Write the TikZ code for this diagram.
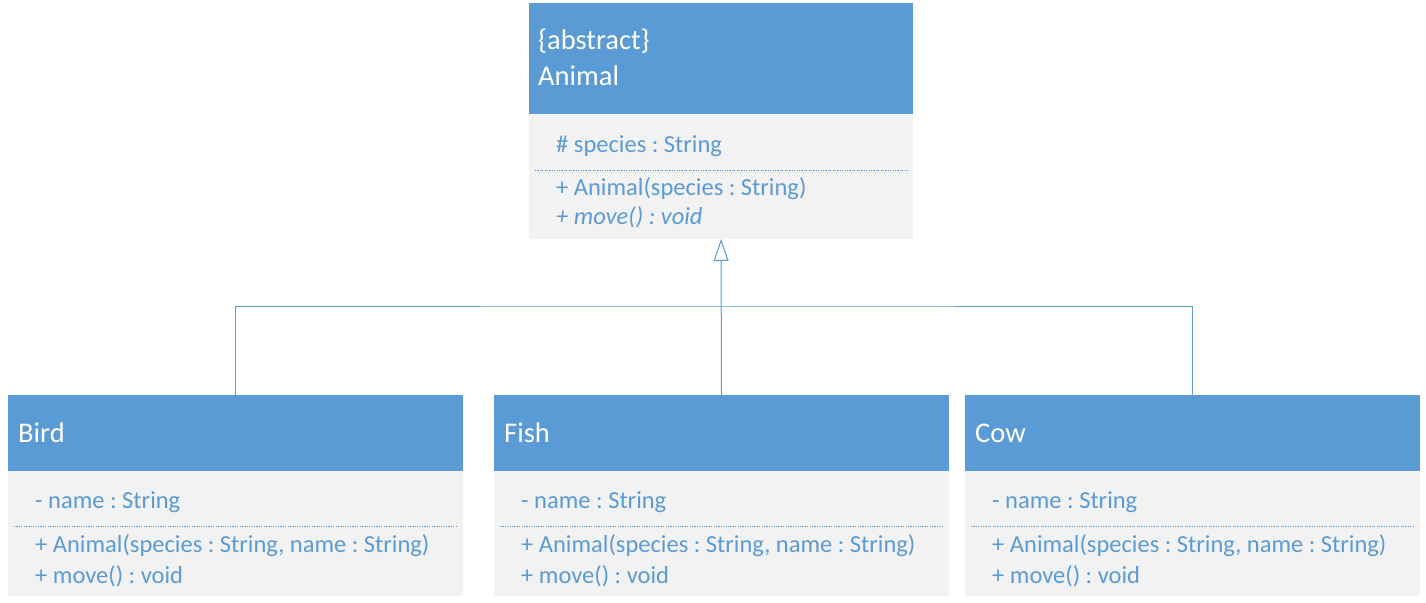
\documentclass[tikz,border=0pt]{standalone}
\usepackage{fontspec}
\setmainfont{Carlito}
\usetikzlibrary{arrows.meta}
\definecolor{umlblue}{HTML}{5B9BD5}
\definecolor{umlgray}{HTML}{F2F2F2}
\frenchspacing
\begin{document}
\begin{tikzpicture}[x=1pt,y=-1pt,
 head/.style={fill=umlblue, anchor=north west, inner sep=0pt, outer sep=0pt},
 body/.style={fill=umlgray, anchor=north west, inner sep=0pt, outer sep=0pt},
 headtxt/.style={anchor=base west, inner sep=0pt, text=white, font=\fontsize{28.5}{34}\selectfont},
 membtxt/.style={anchor=base west, inner sep=0pt, text=umlblue, font=\fontsize{24.5}{29}\selectfont},
 sep/.style={draw=umlblue, line width=0.7pt, dash pattern=on 1.2pt off 1.2pt},
 conn/.style={draw=umlblue, line width=1pt},
 inherit/.style={conn, -{Triangle[open, length=22pt, width=15pt, fill=white]}}
]
\useasboundingbox (0,0) rectangle (1426,602);

% Abstract class Animal
\node[head, minimum width=384pt, minimum height=111pt] (animalhead) at (529,3) {};
\node[body, minimum width=384pt, minimum height=125pt] (animalbody) at (529,114) {};
\node[headtxt] (animalstereo) at (538,50) {\{abstract\}};
\node[headtxt] (animalname) at (538,85) {Animal};
\node[membtxt] (animalattr) at (556,152) {\# species : String};
\draw[sep] (535,170.5) -- (908,170.5);
\node[membtxt] (animalctor) at (556,195) {+ Animal(species : String)};
\node[membtxt, font=\fontsize{24.5}{29}\selectfont\itshape] (animalmove) at (556,224) {+ move() : void};

% Subclasses
\foreach \n/\x/\t in {bird/8/Bird, fish/494/Fish, cow/965/Cow} {
 \node[head, minimum width=455pt, minimum height=76pt] (\n head) at (\x,395) {};
 \node[body, minimum width=455pt, minimum height=125pt] (\n body) at (\x,471) {};
 \node[headtxt] (\n title) at (\x+10,442) {\t};
 \node[membtxt] (\n attr) at (\x+27,508) {- name : String};
 \draw[sep] (\x+6,526.5) -- (\x+448,526.5);
 \node[membtxt] (\n ctor) at (\x+27,552) {+ Animal(species : String, name : String)};
 \node[membtxt] (\n move) at (\x+27,583) {+ move() : void};
}

% Generalisation connectors
\coordinate (split) at (721,306);
\draw[conn] (birdhead.north) |- (split) -| (cowhead.north);
\draw[inherit] (fishhead.north) -- (animalbody.south);
\end{tikzpicture}
\end{document}
